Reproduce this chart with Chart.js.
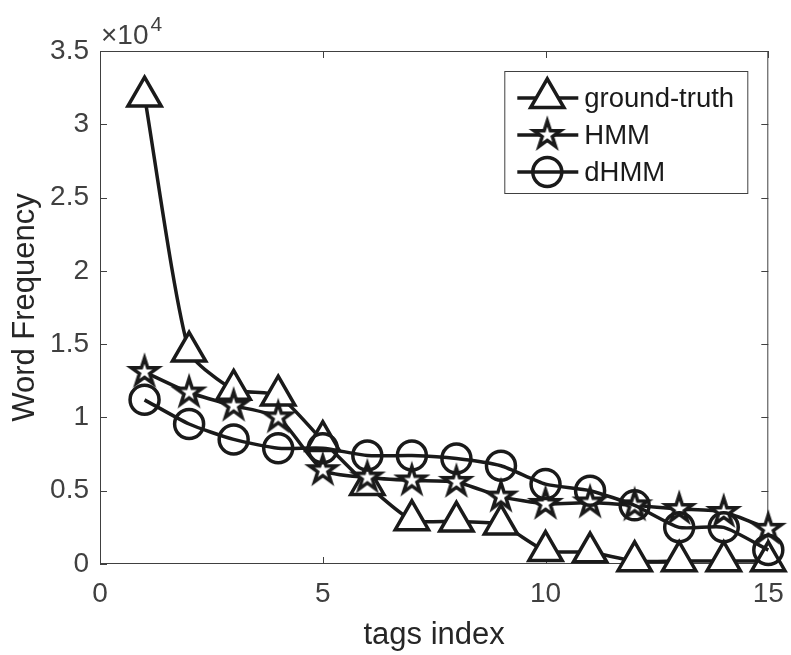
<!DOCTYPE html>
<html>
<head>
<meta charset="utf-8">
<script src="https://cdn.jsdelivr.net/npm/chart.js@4.4.1/dist/chart.umd.min.js"></script>
<style>
  html, body { margin: 0; padding: 0; background: #fff; }
  #wrap { width: 791px; height: 655px; }
</style>
</head>
<body>
<div id="wrap"><canvas id="myChart" width="791" height="655"></canvas></div>
<script>
// Word frequency per tag
const tagIndex = [1, 2, 3, 4, 5, 6, 7, 8, 9, 10, 11, 12, 13, 14, 15];
const groundTruth = [31900, 14500, 11900, 11500, 8400, 5400, 3000, 2900, 2700, 900, 800, 200, 200, 200, 200];
const hmm = [13100, 11700, 10800, 10000, 6400, 5900, 5700, 5600, 4600, 4100, 4200, 4000, 3750, 3550, 2400];
const dhmm = [11200, 9550, 8500, 7900, 7900, 7400, 7400, 7200, 6700, 5450, 5000, 4000, 2500, 2500, 950];
const seriesNames = ["ground-truth", "HMM", "dHMM"];
const xTicks = [0, 5, 10, 15];
const yTicks = [0, 5000, 10000, 15000, 20000, 25000, 30000, 35000];

const FONT = "'Liberation Sans', Arial, Helvetica, sans-serif";
const ink = "#1a1a1a";
const axisGray = "#404040";

// pentagram marker (Chart.js "star" is an asterisk, so draw our own)
const makeStar = (R, lw) => {
    const size = Math.ceil(2 * (R + 8));
    const c = document.createElement("canvas");
    c.width = size;
    c.height = size;
    const g = c.getContext("2d");
    const r = R * 0.382;
    g.beginPath();
    for (let k = 0; k < 10; k++) {
        const rad = k % 2 === 0 ? R : r;
        const a = -Math.PI / 2 + k * Math.PI / 5;
        const px = size / 2 + rad * Math.cos(a);
        const py = size / 2 + rad * Math.sin(a);
        if (k === 0) g.moveTo(px, py); else g.lineTo(px, py);
    }
    g.closePath();
    g.fillStyle = "#fff";
    g.fill();
    g.lineWidth = lw;
    g.lineJoin = "miter";
    g.strokeStyle = ink;
    g.stroke();
    return c;
};
const starImg = makeStar(14, 3.5);

const toPoints = (vals) => vals.map((v, i) => ({ x: tagIndex[i], y: v }));

const markers = [
    { pointStyle: "triangle", pointRadius: 19.2, pointBackgroundColor: "#fff" },
    { pointStyle: starImg, pointRadius: 18, pointBackgroundColor: "#fff" },
    { pointStyle: "circle", pointRadius: 14.5, pointBackgroundColor: "rgba(0,0,0,0)" },
];

const seriesData = [groundTruth, hmm, dhmm];

const datasets = seriesData.map((vals, i) => ({
    label: seriesNames[i],
    data: toPoints(vals),
    borderColor: ink,
    borderWidth: 3.5,
    pointBorderColor: ink,
    pointBorderWidth: 3.5,
    tension: 0.2,
    clip: false,
    order: 3 - i,
    ...markers[i],
}));

// box, inward ticks and the x10^4 exponent, MATLAB style
const axesBox = {
    id: "axesBox",
    beforeDatasetsDraw(chart) {
        const { ctx, chartArea: a, scales } = chart;
        ctx.save();
        ctx.strokeStyle = axisGray;
        ctx.lineWidth = 1;
        ctx.strokeRect(a.left + 0.5, a.top + 0.5, a.right - a.left - 1, a.bottom - a.top - 1);
        ctx.beginPath();
        xTicks.forEach(t => {
            const px = Math.round(scales.x.getPixelForValue(t)) + 0.5;
            ctx.moveTo(px, a.bottom); ctx.lineTo(px, a.bottom - 7);
            ctx.moveTo(px, a.top); ctx.lineTo(px, a.top + 7);
        });
        yTicks.forEach(t => {
            const py = Math.round(scales.y.getPixelForValue(t)) + 0.5;
            ctx.moveTo(a.left, py); ctx.lineTo(a.left + 7, py);
            ctx.moveTo(a.right, py); ctx.lineTo(a.right - 7, py);
        });
        ctx.stroke();

        ctx.fillStyle = axisGray;
        ctx.textBaseline = "alphabetic";
        ctx.textAlign = "left";
        ctx.font = "28px " + FONT;
        ctx.fillText("\u00d710", a.left + 1, a.top - 7);
        const w = ctx.measureText("\u00d710").width;
        ctx.font = "21px " + FONT;
        ctx.fillText("4", a.left + 3 + w, a.top - 20);
        ctx.restore();
    },
    afterDraw(chart) {
        // legend box in the upper right corner of the axes
        const { ctx, chartArea: a } = chart;
        const left = a.right - 264, top = a.top + 20, width = 243, height = 122;
        ctx.save();
        ctx.fillStyle = "#fff";
        ctx.fillRect(left, top, width, height);
        ctx.strokeStyle = axisGray;
        ctx.lineWidth = 1;
        ctx.strokeRect(left + 0.5, top + 0.5, width, height);
        datasets.forEach((ds, i) => {
            const cy = top + 27 + i * 37;
            const cx = left + 43;
            ctx.strokeStyle = ink;
            ctx.lineWidth = 3.5;
            ctx.beginPath();
            ctx.moveTo(left + 13, cy);
            ctx.lineTo(left + 74, cy);
            ctx.stroke();
            ctx.fillStyle = ds.pointBackgroundColor;
            Chart.helpers.drawPoint(ctx, {
                pointStyle: ds.pointStyle, radius: ds.pointRadius, borderWidth: 3.5, rotation: 0
            }, cx, cy);
            ctx.fillStyle = ink;
            ctx.font = "27.5px " + FONT;
            ctx.textAlign = "left";
            ctx.textBaseline = "middle";
            ctx.fillText(ds.label, left + 80, cy + 1);
        });
        ctx.restore();
    }
};

const config = {
    type: "line",
    data: { datasets: datasets },
    options: {
        responsive: false,
        animation: false,
        events: [],
        layout: { padding: { top: 51, right: 18, left: 0, bottom: 0 } },
        plugins: {
            legend: { display: false },
            tooltip: { enabled: false },
        },
        scales: {
            x: {
                type: "linear",
                min: 0,
                max: 15,
                afterBuildTicks: s => { s.ticks = xTicks.map(v => ({ value: v })); },
                afterFit: s => { s.height = 91; s.paddingLeft = 0; s.paddingRight = 0; },
                grid: { display: false, drawTicks: false },
                border: { display: false },
                ticks: { color: axisGray, padding: 13, font: { family: FONT, size: 28 } },
                title: {
                    display: true, text: "tags index", color: "#262626",
                    font: { family: FONT, size: 31 }, padding: { top: 0, bottom: 1 }
                },
            },
            y: {
                min: 0,
                max: 35000,
                afterBuildTicks: s => { s.ticks = yTicks.map(v => ({ value: v })); },
                afterFit: s => { s.width = 100; },
                grid: { display: false, drawTicks: false },
                border: { display: false },
                ticks: {
                    color: axisGray, padding: 11, font: { family: FONT, size: 28 },
                    callback: v => String(v / 10000),
                },
                title: {
                    display: true, text: "Word Frequency", color: "#262626",
                    font: { family: FONT, size: 31 }, padding: { top: 7, bottom: 0 }
                },
            },
        },
    },
    plugins: [axesBox],
};

const myChart = new Chart(document.getElementById("myChart"), config);
</script>
</body>
</html>
